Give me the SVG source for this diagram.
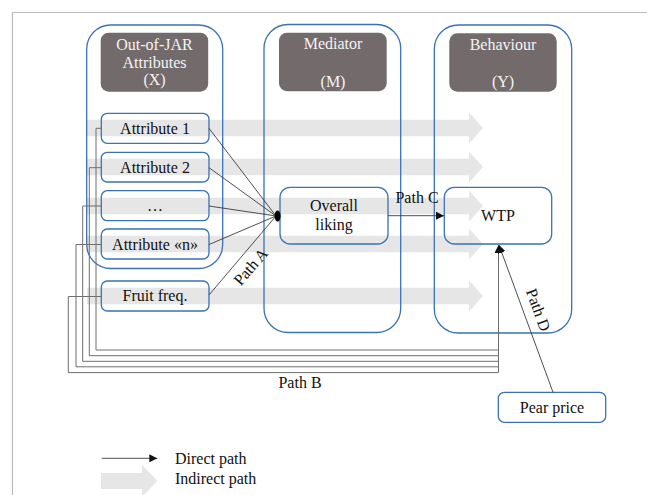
<svg xmlns="http://www.w3.org/2000/svg" width="647" height="495" viewBox="0 0 647 495">
  <style>
    .frame { stroke: #bcbcbc; stroke-width: 1.2; fill: none; }
    .band { fill: #e6e6e6; }
    .container { fill: none; stroke: #3a72b6; stroke-width: 1.3; }
    .box { fill: none; stroke: #3a72b6; stroke-width: 1.3; }
    .head { fill: #736b6b; }
    .htext { font-family: "Liberation Serif", "DejaVu Serif", serif; font-size: 16px; fill: #f4f4f4; text-anchor: middle; }
    .label { font-family: "Liberation Serif", "DejaVu Serif", serif; font-size: 16px; fill: #111; text-anchor: middle; }
    .legend { font-family: "Liberation Serif", "DejaVu Serif", serif; font-size: 16px; fill: #111; }
    .direct { fill: none; stroke: #3c3c3c; stroke-width: 0.9; }
    .pathb { fill: none; stroke: #6e6e6e; stroke-width: 1; }
  </style>
  <defs>
    <marker id="tip" viewBox="0 0 10 10" refX="10" refY="5" markerWidth="8" markerHeight="8" markerUnits="userSpaceOnUse" orient="auto">
      <path d="M0,0 L10,5 L0,10 Z" fill="#111"/>
    </marker>
  </defs>

  <rect width="647" height="495" fill="#ffffff"/>
  <!-- page frame -->
  <path class="frame" d="M12.5,495 L12.5,12.5 L647,12.5"/>

  <!-- indirect paths (wide grey arrows) -->
  <g id="indirect">
    <polygon class="band" points="87,119.7 469,119.7 469,112.5 483,128 469,143.5 469,136.3 87,136.3"/>
    <polygon class="band" points="87,158.7 469,158.7 469,151.5 483,167 469,182.5 469,175.3 87,175.3"/>
    <polygon class="band" points="87,197.7 469,197.7 469,190.5 483,206 469,221.5 469,214.3 87,214.3"/>
    <polygon class="band" points="87,235.7 469,235.7 469,228.5 483,244 469,259.5 469,252.3 87,252.3"/>
    <polygon class="band" points="87,287.7 469,287.7 469,280.5 483,296 469,311.5 469,304.3 87,304.3"/>
  </g>

  <!-- X column -->
  <g id="col-x">
    <rect class="container" x="86.7" y="25" width="136" height="243.5" rx="24"/>
    <rect class="head" x="100.7" y="32.7" width="107.5" height="59" rx="8"/>
    <text class="htext" x="154.5" y="50">Out-of-JAR</text>
    <text class="htext" x="154.5" y="67.5">Attributes</text>
    <text class="htext" x="154.5" y="85">(X)</text>
  </g>

  <!-- M column -->
  <g id="col-m">
    <rect class="container" x="264" y="24.5" width="136.7" height="308" rx="24"/>
    <rect class="head" x="279" y="32.7" width="107.7" height="58.5" rx="8"/>
    <text class="htext" x="333" y="49">Mediator</text>
    <text class="htext" x="333" y="86.5">(M)</text>
  </g>

  <!-- Y column -->
  <g id="col-y">
    <rect class="container" x="434.3" y="25" width="137.4" height="308" rx="24"/>
    <rect class="head" x="449.3" y="33.3" width="107.4" height="58.4" rx="8"/>
    <text class="htext" x="503" y="49.5">Behaviour</text>
    <text class="htext" x="503" y="86.5">(Y)</text>
  </g>

  <!-- attribute nodes -->
  <g id="attr-1">
    <rect class="box" x="101.3" y="113.3" width="107.7" height="30" rx="6"/>
    <text class="label" x="155" y="133.5">Attribute 1</text>
  </g>
  <g id="attr-2">
    <rect class="box" x="101.3" y="152.3" width="107.7" height="29.7" rx="6"/>
    <text class="label" x="155" y="172.5">Attribute 2</text>
  </g>
  <g id="attr-more">
    <rect class="box" x="101.3" y="190.7" width="107.7" height="30" rx="6"/>
    <text class="label" x="155" y="211" fill="#555">…</text>
  </g>
  <g id="attr-n">
    <rect class="box" x="101.3" y="229" width="107.7" height="30" rx="6"/>
    <text class="label" x="155" y="249.5">Attribute «n»</text>
  </g>
  <g id="fruit-freq">
    <rect class="box" x="101.3" y="281" width="107.7" height="30" rx="6"/>
    <text class="label" x="155" y="301">Fruit freq.</text>
  </g>

  <!-- mediator and outcome nodes -->
  <g id="liking">
    <rect class="box" x="280" y="187.3" width="108" height="56.7" rx="10"/>
    <text class="label" x="334" y="211">Overall</text>
    <text class="label" x="334" y="230">liking</text>
  </g>
  <g id="wtp">
    <rect class="box" x="444.3" y="187.3" width="107.4" height="56.7" rx="10"/>
    <text class="label" x="498" y="221">WTP</text>
  </g>
  <g id="pear-price">
    <rect class="box" x="498.3" y="392.3" width="107.4" height="30" rx="6"/>
    <text class="label" x="552" y="412.5">Pear price</text>
  </g>

  <!-- direct paths -->
  <g id="connectors">
    <!-- path A: attributes to overall liking -->
    <path class="direct" d="M209,128.3 L276,216"/>
    <path class="direct" d="M209,167.7 L276,216"/>
    <path class="direct" d="M209,206 L276,216"/>
    <path class="direct" d="M209,244.5 L276,216"/>
    <path class="direct" d="M209,295 L276,216"/>
    <ellipse cx="277.6" cy="216" rx="3" ry="5.6" fill="#000"/>
    <text class="label" transform="translate(251,267) rotate(-49)" y="5">Path A</text>

    <!-- path C: liking to WTP -->
    <path class="direct" d="M388,215.7 L444,215.7" marker-end="url(#tip)"/>
    <text class="label" x="417" y="203">Path C</text>

    <!-- path B: attributes to WTP -->
    <path class="pathb" d="M101.3,128.3 H96 V350 H498.5"/>
    <path class="pathb" d="M101.3,167.7 H89.3 V355.7 H498.5"/>
    <path class="pathb" d="M101.3,206 H82.7 V361.3 H498.5"/>
    <path class="pathb" d="M101.3,244.5 H76 V366.8 H498.5"/>
    <path class="pathb" d="M101.3,296.5 H68.3 V372.6 H498.5 V245" marker-end="url(#tip)"/>
    <text class="label" x="300" y="388">Path B</text>

    <!-- path D: pear price to WTP -->
    <path class="direct" d="M553,392.3 L499,245" marker-end="url(#tip)"/>
    <text class="label" transform="translate(538,310) rotate(70)" y="5">Path D</text>
  </g>

  <!-- legend -->
  <g id="legend">
    <path class="direct" d="M101.7,458.3 L157.3,458.3" marker-end="url(#tip)"/>
    <text class="legend" x="175" y="463.5">Direct path</text>
    <polygon class="band" points="101,473 142,473 142,465 157.3,481 142,497 142,489 101,489"/>
    <text class="legend" x="175" y="483.5">Indirect path</text>
  </g>
</svg>
